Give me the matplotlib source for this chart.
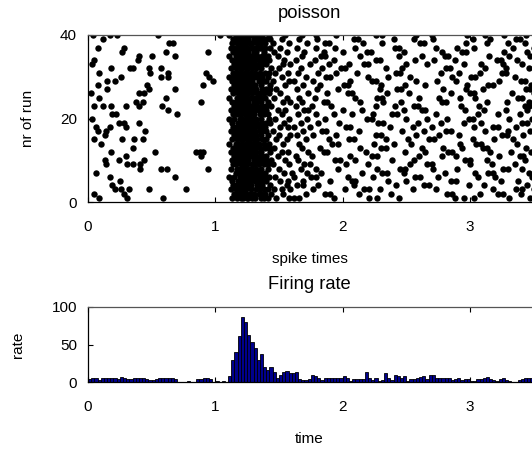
import numpy as np
import matplotlib
matplotlib.use('Agg')
import matplotlib.pyplot as plt

plt.rcParams['font.family'] = ['Liberation Sans', 'DejaVu Sans']
plt.rcParams['font.size'] = 11

# spike times (s) of every run
run01 = [0.09, 0.31, 0.59, 1.13, 1.17, 1.20, 1.22, 1.25, 1.26, 1.29, 1.31, 1.36, 1.38, 1.41, 1.48, 1.58,
         1.62, 1.66, 1.93, 2.21, 2.27, 2.44, 2.88, 2.95, 3.03, 3.31, 3.47]
run02 = [0.05, 0.28, 1.15, 1.18, 1.21, 1.23, 1.24, 1.27, 1.30, 1.34, 1.36, 1.39, 1.44, 1.53,
         1.71, 1.86, 1.90, 2.13, 2.38, 2.82, 2.86, 3.08, 3.22, 3.26, 3.40]
run03 = [0.21, 0.26, 0.32, 0.48, 0.77, 1.12, 1.16, 1.19, 1.22, 1.24, 1.28, 1.32, 1.35, 1.38, 1.41, 1.46, 1.52,
         1.59, 1.77, 2.02, 2.17, 2.21, 2.29, 2.55, 2.73, 3.18, 3.36, 3.41, 3.50]
run04 = [0.19, 1.14, 1.17, 1.20, 1.21, 1.23, 1.26, 1.28, 1.33, 1.37, 1.43, 1.56,
         1.64, 1.69, 1.81, 2.09, 2.42, 2.64, 2.68, 2.99, 3.11, 3.45]
run05 = [0.25, 1.13, 1.18, 1.20, 1.22, 1.25, 1.27, 1.31, 1.34, 1.37, 1.40, 1.51, 1.57,
         1.69, 1.90, 2.07, 2.10, 2.36, 2.50, 2.85, 2.89, 3.24, 3.38, 3.53]
run06 = [0.17, 0.68, 1.11, 1.15, 1.19, 1.21, 1.24, 1.26, 1.29, 1.33, 1.36, 1.39, 1.42, 1.47,
         1.62, 1.75, 1.79, 2.04, 2.24, 2.57, 2.61, 2.75, 3.06, 3.20, 3.49]
run07 = [0.06, 1.16, 1.18, 1.20, 1.23, 1.25, 1.28, 1.30, 1.33, 1.35, 1.39, 1.54, 1.60,
         1.72, 1.83, 2.15, 2.31, 2.35, 2.48, 2.80, 3.04, 3.14, 3.18, 3.46]
run08 = [0.41, 0.57, 0.62, 0.94, 1.12, 1.17, 1.19, 1.22, 1.24, 1.27, 1.29, 1.32, 1.36, 1.41, 1.50,
         1.67, 1.79, 1.96, 2.27, 2.45, 2.49, 2.71, 2.90, 3.26, 3.30, 3.41]
run09 = [0.14, 0.31, 0.35, 0.41, 1.14, 1.16, 1.20, 1.21, 1.23, 1.25, 1.29, 1.31, 1.34, 1.38, 1.41, 1.45,
         1.58, 1.70, 1.74, 2.03, 2.20, 2.53, 2.66, 2.70, 3.00, 3.17, 3.35, 3.52]
run10 = [0.13, 0.24, 0.44, 1.13, 1.17, 1.19, 1.22, 1.24, 1.26, 1.30, 1.33, 1.37, 1.40, 1.44, 1.55,
         1.65, 1.94, 1.98, 2.10, 2.39, 2.56, 2.96, 3.00, 3.13, 3.43]
run11 = [0.30, 0.89, 1.15, 1.18, 1.20, 1.23, 1.26, 1.28, 1.31, 1.35, 1.37, 1.40, 1.49,
         1.63, 1.76, 2.06, 2.23, 2.27, 2.60, 2.78, 2.89, 3.23, 3.39, 3.42]
run12 = [0.18, 0.53, 0.85, 0.88, 0.90, 1.12, 1.16, 1.20, 1.22, 1.24, 1.27, 1.30, 1.32, 1.36, 1.43, 1.52,
         1.57, 1.73, 1.85, 1.88, 2.18, 2.49, 2.65, 2.83, 2.86, 3.16, 3.32, 3.48]
run13 = [0.35, 1.14, 1.17, 1.19, 1.21, 1.23, 1.25, 1.28, 1.31, 1.35, 1.39, 1.42, 1.46,
         1.68, 1.82, 2.14, 2.30, 2.34, 2.62, 2.79, 2.94, 3.10, 3.13, 3.44]
run14 = [0.10, 1.11, 1.16, 1.18, 1.21, 1.24, 1.26, 1.29, 1.31, 1.34, 1.38, 1.42, 1.53,
         1.66, 1.92, 1.96, 2.25, 2.40, 2.54, 2.92, 3.05, 3.09, 3.37, 3.51]
run15 = [0.05, 0.27, 0.36, 0.43, 1.13, 1.17, 1.20, 1.22, 1.25, 1.27, 1.30, 1.33, 1.37, 1.40, 1.48, 1.56,
         1.71, 1.89, 2.05, 2.09, 2.34, 2.51, 2.68, 2.72, 3.02, 3.19, 3.34]
run16 = [0.13, 1.15, 1.18, 1.21, 1.23, 1.24, 1.28, 1.32, 1.36, 1.41, 1.50, 1.59,
         1.64, 1.77, 1.95, 2.26, 2.30, 2.58, 2.76, 2.91, 3.25, 3.29, 3.42]
run17 = [0.08, 0.14, 0.45, 1.12, 1.16, 1.19, 1.22, 1.24, 1.26, 1.29, 1.31, 1.35, 1.37, 1.40, 1.45,
         1.69, 1.84, 1.87, 2.13, 2.47, 2.64, 2.81, 2.85, 3.12, 3.30, 3.47]
run18 = [0.06, 0.17, 0.30, 1.14, 1.17, 1.20, 1.21, 1.23, 1.27, 1.30, 1.34, 1.36, 1.39, 1.51, 1.57,
         1.62, 1.74, 2.03, 2.06, 2.37, 2.55, 2.70, 3.03, 3.18, 3.22, 3.36]
run19 = [0.24, 0.28, 0.40, 1.13, 1.18, 1.20, 1.22, 1.25, 1.28, 1.31, 1.33, 1.37, 1.40, 1.43, 1.54,
         1.67, 1.81, 1.97, 2.28, 2.32, 2.59, 2.77, 2.95, 3.09, 3.41, 3.45]
run20 = [0.03, 1.11, 1.15, 1.19, 1.21, 1.24, 1.26, 1.29, 1.32, 1.36, 1.42, 1.47, 1.58,
         1.72, 1.86, 2.19, 2.23, 2.50, 2.66, 2.82, 2.99, 3.02, 3.31, 3.49]
run21 = [0.19, 0.22, 0.70, 1.14, 1.17, 1.20, 1.23, 1.25, 1.27, 1.30, 1.35, 1.38, 1.41, 1.52,
         1.65, 1.79, 1.93, 2.07, 2.24, 2.39, 2.43, 2.73, 3.06, 3.22, 3.39]
run22 = [0.63, 1.12, 1.16, 1.18, 1.21, 1.22, 1.24, 1.28, 1.31, 1.34, 1.37, 1.40, 1.49, 1.55,
         1.70, 1.73, 2.00, 2.15, 2.48, 2.62, 2.65, 2.96, 3.11, 3.28, 3.45]
run23 = [0.05, 0.12, 0.18, 0.30, 0.40, 0.58, 1.15, 1.17, 1.20, 1.22, 1.24, 1.27, 1.29, 1.33, 1.37, 1.40,
         1.44, 1.63, 1.76, 1.91, 2.26, 2.41, 2.56, 2.59, 2.93, 3.07, 3.43, 3.46]
run24 = [0.38, 0.43, 0.89, 1.13, 1.16, 1.19, 1.21, 1.23, 1.26, 1.30, 1.32, 1.36, 1.41, 1.53, 1.59,
         1.68, 1.85, 1.88, 2.14, 2.32, 2.46, 2.78, 2.81, 3.13, 3.29, 3.46]
run25 = [0.09, 0.61, 1.11, 1.17, 1.20, 1.22, 1.25, 1.28, 1.31, 1.34, 1.36, 1.39, 1.46, 1.56,
         1.66, 1.78, 2.10, 2.27, 2.31, 2.60, 2.76, 2.92, 3.04, 3.38, 3.41]
run26 = [0.02, 0.40, 0.44, 1.14, 1.18, 1.20, 1.23, 1.24, 1.26, 1.29, 1.33, 1.35, 1.38, 1.42, 1.51,
         1.73, 1.88, 2.04, 2.07, 2.35, 2.52, 2.85, 3.00, 3.03, 3.33, 3.50]
run27 = [0.15, 0.48, 0.68, 1.12, 1.16, 1.19, 1.21, 1.24, 1.27, 1.30, 1.32, 1.37, 1.40, 1.43, 1.48,
         1.64, 1.80, 1.96, 2.29, 2.43, 2.46, 2.79, 2.97, 3.10, 3.44, 3.47]
run28 = [0.08, 0.46, 0.90, 1.15, 1.17, 1.20, 1.22, 1.23, 1.25, 1.28, 1.31, 1.36, 1.43, 1.55,
         1.69, 1.82, 2.01, 2.04, 2.30, 2.49, 2.65, 2.98, 3.14, 3.18, 3.48]
run29 = [0.15, 0.21, 0.98, 1.13, 1.16, 1.19, 1.21, 1.24, 1.26, 1.29, 1.34, 1.38, 1.40, 1.45, 1.58,
         1.62, 1.77, 2.06, 2.23, 2.26, 2.58, 2.74, 2.89, 3.23, 3.40, 3.43]
run30 = [0.26, 0.57, 0.63, 0.95, 1.11, 1.15, 1.18, 1.20, 1.22, 1.25, 1.27, 1.30, 1.33, 1.35, 1.37, 1.41,
         1.52, 1.71, 1.87, 1.90, 2.20, 2.36, 2.53, 2.86, 3.01, 3.04, 3.35, 3.51]
run31 = [0.09, 0.49, 0.63, 0.93, 1.14, 1.17, 1.20, 1.23, 1.25, 1.28, 1.31, 1.35, 1.39, 1.42, 1.47, 1.57,
         1.65, 1.81, 1.95, 2.11, 2.42, 2.45, 2.77, 2.91, 3.08, 3.25, 3.28]
run32 = [0.18, 0.33, 0.35, 0.48, 0.57, 1.12, 1.16, 1.19, 1.21, 1.24, 1.26, 1.29, 1.32, 1.36, 1.44, 1.50,
         1.67, 1.84, 1.99, 2.02, 2.34, 2.47, 2.81, 2.84, 3.12, 3.28, 3.46]
run33 = [0.03, 1.15, 1.18, 1.20, 1.22, 1.24, 1.27, 1.30, 1.34, 1.37, 1.40, 1.53, 1.59,
         1.74, 1.89, 2.05, 2.17, 2.20, 2.50, 2.66, 2.95, 3.09, 3.26, 3.41]
run34 = [0.05, 0.39, 1.13, 1.17, 1.19, 1.21, 1.23, 1.25, 1.28, 1.31, 1.35, 1.38, 1.42, 1.54,
         1.63, 1.78, 1.93, 2.26, 2.29, 2.57, 2.72, 2.88, 3.21, 3.24, 3.37]
run35 = [0.40, 0.50, 0.68, 1.11, 1.16, 1.20, 1.22, 1.24, 1.27, 1.29, 1.33, 1.37, 1.39, 1.41, 1.49,
         1.68, 1.83, 1.86, 2.14, 2.44, 2.62, 2.80, 2.83, 3.15, 3.31, 3.47]
run36 = [0.27, 0.61, 0.94, 1.14, 1.17, 1.19, 1.21, 1.24, 1.26, 1.30, 1.32, 1.38, 1.46, 1.56,
         1.70, 1.85, 2.00, 2.19, 2.22, 2.48, 2.78, 2.94, 2.97, 3.27, 3.45]
run37 = [0.08, 0.28, 1.12, 1.15, 1.18, 1.20, 1.22, 1.25, 1.28, 1.31, 1.34, 1.36, 1.39, 1.43, 1.51,
         1.64, 1.79, 1.94, 2.10, 2.41, 2.44, 2.73, 2.90, 3.03, 3.34, 3.50]
run38 = [0.64, 0.67, 1.13, 1.17, 1.20, 1.23, 1.24, 1.27, 1.29, 1.33, 1.36, 1.39, 1.45, 1.58,
         1.72, 1.86, 1.89, 2.16, 2.31, 2.61, 2.64, 2.97, 3.13, 3.30, 3.43]
run39 = [0.12, 1.14, 1.16, 1.19, 1.21, 1.23, 1.26, 1.30, 1.34, 1.37, 1.40, 1.43, 1.52,
         1.66, 1.80, 2.09, 2.12, 2.40, 2.56, 2.71, 3.02, 3.16, 3.36, 3.39]
run40 = [0.04, 0.17, 0.23, 0.55, 1.04, 1.11, 1.16, 1.19, 1.21, 1.23, 1.24, 1.27, 1.30, 1.33, 1.37, 1.42,
         1.55, 1.68, 1.79, 1.95, 2.26, 2.31, 2.58, 2.70, 2.98, 3.12, 3.27, 3.44]

runs = [run01, run02, run03, run04, run05, run06, run07, run08, run09, run10,
        run11, run12, run13, run14, run15, run16, run17, run18, run19, run20,
        run21, run22, run23, run24, run25, run26, run27, run28, run29, run30,
        run31, run32, run33, run34, run35, run36, run37, run38, run39, run40]

# firing rate per 25 ms bin, starting at t = 0
bin_width = 0.025
rate = [4, 5, 6, 3, 5, 6, 5, 5, 5, 4, 7, 5, 4, 4, 5, 5, 5, 6, 4, 3,
        3, 4, 5, 5, 5, 5, 5, 4, 0, 0, 0, 2, 0, 0, 4, 4, 5, 6, 4, 0,
        2, 0, 1, 0, 8, 29, 40, 61, 87, 80, 63, 54, 46, 30, 37, 20, 16, 20, 14, 6,
        9, 14, 15, 12, 12, 14, 4, 3, 3, 4, 9, 8, 6, 3, 6, 6, 6, 6, 5, 6,
        8, 6, 2, 4, 4, 4, 4, 14, 5, 3, 5, 2, 3, 12, 5, 3, 9, 8, 6, 8,
        2, 4, 4, 5, 7, 8, 4, 9, 9, 6, 5, 5, 5, 5, 3, 4, 5, 3, 4, 4,
        2, 2, 4, 4, 6, 7, 4, 3, 1, 4, 5, 3, 1, 0, 0, 3, 4, 6, 6, 5]

fig = plt.figure(figsize=(5.32, 4.49), dpi=100)
ax1 = fig.add_axes([88 / 532, 1 - 202 / 449, 452 / 532, 167 / 449])
ax2 = fig.add_axes([88 / 532, 1 - 382 / 449, 452 / 532, 75 / 449])

for nr, times in enumerate(runs, start=1):
    ax1.plot(times, np.full(len(times), nr), 'o', color='black',
             markersize=4.6, markeredgewidth=0)
ax1.set_xlim(0, 3.55)
ax1.set_ylim(0, 40)
ax1.set_yticks([0, 20, 40])
ax1.set_xticks([0, 1, 2, 3])
ax1.set_title('poisson', pad=12, x=0.49)
ax1.set_xlabel('spike times', labelpad=13, x=0.49)
ax1.set_ylabel('nr of run', labelpad=18)

edges = np.arange(len(rate)) * bin_width
ax2.bar(edges, rate, width=bin_width, align='edge', color='#00008c',
        edgecolor='black', linewidth=0.6)
ax2.set_xlim(0, 3.55)
ax2.set_ylim(0, 100)
ax2.set_yticks([0, 50, 100])
ax2.set_xticks([0, 1, 2, 3])
ax2.set_title('Firing rate', pad=13, x=0.49)
ax2.set_xlabel('time', labelpad=13, x=0.49)
ax2.set_ylabel('rate', labelpad=19)

for ax in (ax1, ax2):
    ax.tick_params(direction='in', length=3.5, width=0.8, top=True, right=True,
                   pad=13, labelsize=11)
    ax.tick_params(axis='y', pad=8)
    for side in ax.spines.values():
        side.set_linewidth(0.9)
    ax.spines['top'].set_color('#555555')

fig.savefig('out.png', dpi=100)
